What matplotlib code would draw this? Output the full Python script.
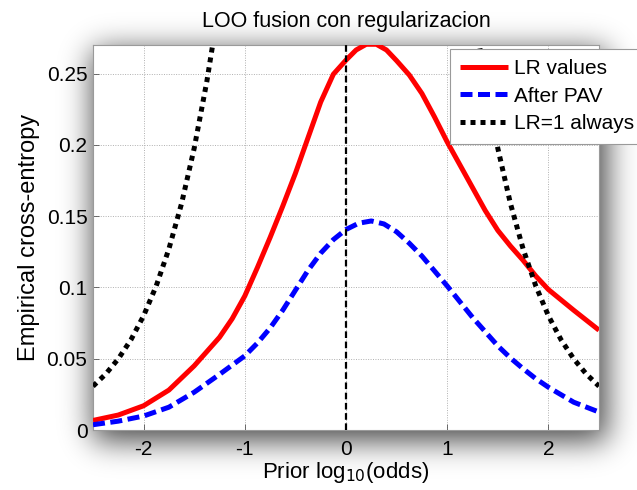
import numpy as np
import matplotlib
matplotlib.use("Agg")
import matplotlib.pyplot as plt

# ---------------- data ----------------
x_lr = [-2.5, -2.25, -2.0, -1.75, -1.5, -1.25, -1.125, -1.0, -0.875, -0.75, -0.625,
        -0.5, -0.375, -0.25, -0.125, 0.0, 0.1, 0.2, 0.3, 0.4, 0.5, 0.625, 0.75,
        0.875, 1.0, 1.125, 1.25, 1.375, 1.5, 1.625, 1.75, 1.875, 2.0, 2.25, 2.5]
lr_values = [0.0067, 0.0105, 0.017, 0.028, 0.045, 0.065, 0.078, 0.094, 0.114, 0.135, 0.157,
             0.180, 0.205, 0.2300, 0.2495, 0.2594, 0.2665, 0.2705, 0.2705, 0.2665, 0.259, 0.249, 0.236,
             0.2195, 0.202, 0.186, 0.170, 0.154, 0.140, 0.129, 0.119, 0.108, 0.0985, 0.084, 0.070]

x_pav = [-2.5, -2.25, -2.0, -1.75, -1.5, -1.25, -1.0, -0.875, -0.75, -0.625, -0.5,
         -0.375, -0.25, -0.125, 0.0, 0.125, 0.25, 0.375, 0.5, 0.625, 0.75, 0.875,
         1.0, 1.125, 1.25, 1.375, 1.5, 1.625, 1.75, 1.875, 2.0, 2.25, 2.5]
after_pav = [0.0037, 0.0062, 0.0098, 0.016, 0.0265, 0.039, 0.052, 0.061, 0.0715, 0.084, 0.098,
             0.112, 0.124, 0.1335, 0.1406, 0.145, 0.1466, 0.1445, 0.139, 0.131, 0.122, 0.1115,
             0.101, 0.090, 0.079, 0.069, 0.059, 0.0505, 0.043, 0.036, 0.030, 0.0195, 0.0126]

x_ref = [-2.5, -2.375, -2.25, -2.125, -2.0, -1.875, -1.75, -1.625, -1.5, -1.375, -1.25, -1.125,
         -1.0, -0.875, -0.75, -0.5, -0.25, 0.0, 0.25, 0.5, 0.75, 0.875, 1.0,
         1.125, 1.25, 1.375, 1.5, 1.625, 1.75, 1.875, 2.0, 2.125, 2.25, 2.375, 2.5]
lr_one = [0.0307, 0.0392, 0.0499, 0.0633, 0.0801, 0.1011, 0.1270, 0.1588, 0.1976, 0.2445, 0.300, 0.3649,
          0.4395, 0.5227, 0.612, 0.7955, 0.943, 1.0, 0.943, 0.7955, 0.612, 0.5227, 0.4395,
          0.3649, 0.300, 0.2445, 0.1976, 0.1588, 0.1270, 0.1011, 0.0801, 0.0633, 0.0499, 0.0392, 0.0307]

prior_marker = 0.0
xticks = [-2, -1, 0, 1, 2]
xtick_labels = ["-2", "-1", "0", "1", "2"]
yticks = [0, 0.05, 0.1, 0.15, 0.2, 0.25]
ytick_labels = ["0", "0.05", "0.1", "0.15", "0.2", "0.25"]
legend_labels = ["LR values", "After PAV", "LR=1 always"]

# ---------------- figure ----------------
plt.rcParams['font.family'] = ['Liberation Sans', 'DejaVu Sans']
W, H, DPI = 637, 490, 100
fig = plt.figure(figsize=(W / DPI, H / DPI), dpi=DPI, facecolor='white')

ax_l, ax_r, ax_t, ax_b = 93, 599, 45, 430
ax = fig.add_axes([ax_l / W, 1 - ax_b / H, (ax_r - ax_l) / W, (ax_b - ax_t) / H])
ax.set_facecolor('white')

# soft drop shadow behind the axes
mask = np.zeros((H, W))
off_x, off_y = 8, 11
mask[ax_t + off_y - 6:ax_b + off_y, ax_l + off_x - 8:ax_r + off_x] = 1.0
sig = 15.0
k = np.arange(-50, 51)
kern = np.exp(-0.5 * (k / sig) ** 2)
kern /= kern.sum()
mask = np.apply_along_axis(lambda r: np.convolve(r, kern, mode='same'), 1, mask)
mask = np.apply_along_axis(lambda c: np.convolve(c, kern, mode='same'), 0, mask)
rgba = np.zeros((H, W, 4))
rgba[..., 3] = 0.72 * mask
fig.figimage(rgba, xo=0, yo=0, origin='upper', zorder=-1)

ax.plot(x_lr, lr_values, color=(1, 0, 0), lw=3.6, solid_capstyle='butt',
        solid_joinstyle='round', label=legend_labels[0], zorder=3)
ax.plot(x_pav, after_pav, color=(0, 0, 1), lw=3.6, dashes=(2.4, 1.1),
        dash_capstyle='butt', label=legend_labels[1], zorder=3)
ax.plot(x_ref, lr_one, color='black', lw=3.6, dashes=(1.0, 1.0),
        dash_capstyle='butt', label=legend_labels[2], zorder=3)
ax.axvline(prior_marker, color='black', lw=1.6, dashes=(3.0, 1.6), zorder=4)

ax.set_xlim(-2.5, 2.5)
ax.set_ylim(0, 0.27)
ax.set_xticks(xticks)
ax.set_xticklabels(xtick_labels)
ax.set_yticks(yticks)
ax.set_yticklabels(ytick_labels)
ax.tick_params(direction='in', length=4, width=0.6, color='#555555',
               labelsize=15, top=False, right=False, pad=4)
ax.tick_params(axis='x', pad=7)
ax.grid(True, color='#b0b0b0', lw=0.7, linestyle=(0, (1, 1.5)))
ax.set_axisbelow(True)
for s in ax.spines.values():
    s.set_color('#9a9a9a')
    s.set_linewidth(0.8)

ax.set_title("LOO fusion con regularizacion", fontsize=15.5, pad=13)
ax.set_xlabel(r"Prior log$_{10}$(odds)", fontsize=16, labelpad=1)
ax.set_ylabel("Empirical cross-entropy", fontsize=17, labelpad=5)

leg = ax.legend(loc='upper left', bbox_to_anchor=(450 / W, 1 - 49 / H),
                bbox_transform=fig.transFigure, borderaxespad=0, fontsize=15,
                handlelength=2.3, handletextpad=0.25, labelspacing=0.4,
                borderpad=0.5, fancybox=False, framealpha=1, edgecolor='#9a9a9a')
leg.get_frame().set_linewidth(0.8)
leg.set_zorder(10)

fig.savefig("out.png", dpi=DPI, facecolor='white')
